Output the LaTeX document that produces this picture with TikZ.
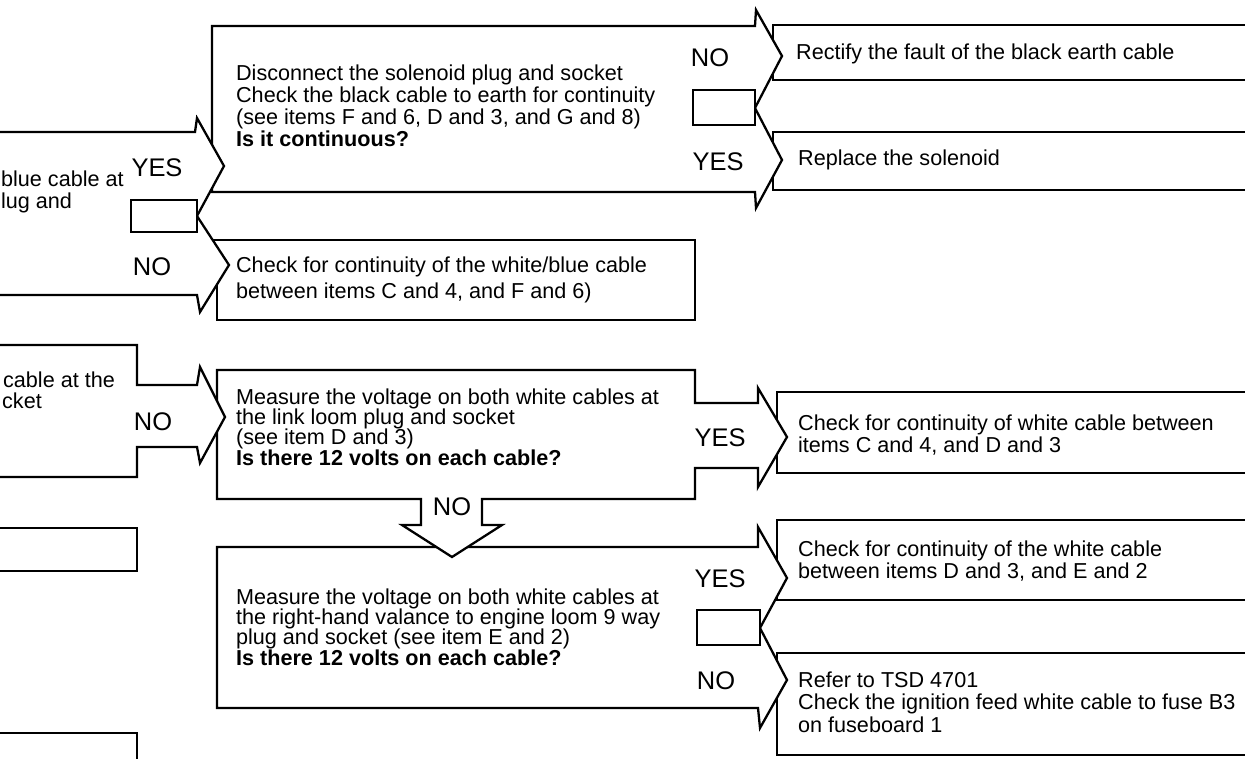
\documentclass[tikz,border=0pt]{standalone}
\usepackage{fontspec}
\setmainfont{Liberation Sans}
\usetikzlibrary{calc,positioning}

\begin{document}
\begin{tikzpicture}[x=0.02cm, y=-0.02cm, line width=1.3pt, line join=miter]
    \tikzset{chart/.style={draw, fill=white},
      Strip/.style={draw},
      Notch/.style={draw, fill=white},
      txt/.style={anchor=west, align=left, inner sep=0pt,
        font=\fontsize{12.3}{12.5}\selectfont},
      Answer/.style={inner sep=0pt, font=\fontsize{14.5}{15}\selectfont}}
    \clip (0,0) rectangle (1245,758);

    % result boxes on the right
    \draw[Strip] (1260,25) -- (773,25) -- (773,80) -- (1260,80);
    \draw[Strip] (1260,132) -- (773,132) -- (773,190) -- (1260,190);
    \draw[Strip] (1260,392) -- (777,392) -- (777,473) -- (1260,473);
    \draw[Strip] (1260,520) -- (777,520) -- (777,600) -- (1260,600);
    \draw[Strip] (1260,653) -- (777,653) -- (777,755) -- (1260,755);

    \draw[chart] (200,240) -- (695,240) -- (695,320) -- (217,320) -- (217,280);
    \draw[chart] (212,26) -- (755,26) -- (756,10) -- (782,56) -- (755,108) -- (782,160)
      -- (756,208) -- (755,192) -- (212,192) -- cycle;
    \draw[chart] (-10,132) -- (195,132) -- (197,118) -- (224,166) -- (197,216) -- (229,265)
      -- (200,312) -- (197,295) -- (-10,295) -- cycle;

    \draw[chart] (217,547) -- (758,547) -- (758,527) -- (787,578) -- (760,628) -- (787,680)
      -- (760,728) -- (758,708) -- (217,708) -- cycle;
    \draw[chart] (217,370) -- (695,370) -- (695,403) -- (758,403) -- (758,388) -- (787,437)
      -- (758,487) -- (758,468) -- (695,468) -- (695,499) -- (482,499) -- (482,525)
      -- (502,525) -- (452,557) -- (402,525) -- (421,525) -- (421,499) -- (217,499) -- cycle;
    \draw[chart] (-10,345) -- (137,345) -- (137,385) -- (197,385) -- (200,367) -- (225,417)
      -- (200,463) -- (197,447) -- (137,447) -- (137,477) -- (-10,477) -- cycle;

    \draw[Notch] (693,90) rectangle (755,125);
    \draw[Notch] (131,200) rectangle (197,232);
    \draw[Notch] (697,610) rectangle (760,645);

    \draw (-10,528) -- (137,528) -- (137,571) -- (-10,571);
    \draw (-10,733) -- (137,733) -- (137,770);

    \node[txt] (disconnect) at (235,106) {Disconnect the solenoid plug and socket\\Check the black cable to earth for continuity\\(see items F and 6, D and 3, and G and 8)\\\textbf{Is it continuous?}};
    \node[txt] (rectify) at (795,54) {Rectify the fault of the black earth cable};
    \node[txt] (solenoid) at (797,160) {Replace the solenoid};
    \node[Answer] (no1) at (710,58) {NO};
    \node[Answer] (yes1) at (718,162) {YES};

    \node[txt] (bluecable) at (0,192) {blue cable at\\lug and};
    \node[Answer] (yes0) at (157,168) {YES};
    \node[Answer] (no0) at (152,267) {NO};
    \node[txt, font=\fontsize{12.3}{14.5}\selectfont] (whiteblue) at (235,280) {Check for continuity of the white/blue cable\\between items C and 4, and F and 6)};

    \node[txt] (cableat) at (2,380) {cable at the};
    \node[txt] (socket) at (1,401) {cket};
    \node[Answer] (no2) at (153,422) {NO};
    \node[txt, font=\fontsize{12.3}{11.5}\selectfont] (linkloom) at (235,427) {Measure the voltage on both white cables at\\the link loom plug and socket\\(see item D and 3)\\\textbf{Is there 12 volts on each cable?}};
    \node[Answer] (yes2) at (720,438) {YES};
    \node[txt] (linkcheck) at (797,435) {Check for continuity of white cable between\\items C and 4, and D and 3};
    \node[Answer] (no3) at (452,507) {NO};

    \node[txt, font=\fontsize{12.3}{11.5}\selectfont] (valance) at (235,627) {Measure the voltage on both white cables at\\the right-hand valance to engine loom 9 way\\plug and socket (see item E and 2)\\\textbf{Is there 12 volts on each cable?}};
    \node[Answer] (yes3) at (720,579) {YES};
    \node[txt] (valcheck) at (797,561) {Check for continuity of the white cable\\between items D and 3, and E and 2};
    \node[Answer] (no4) at (716,681) {NO};
    \node[txt, font=\fontsize{12.3}{12.8}\selectfont] (tsd) at (797,702) {Refer to TSD 4701\\Check the ignition feed white cable to fuse B3\\on fuseboard 1};
\end{tikzpicture}
\end{document}
